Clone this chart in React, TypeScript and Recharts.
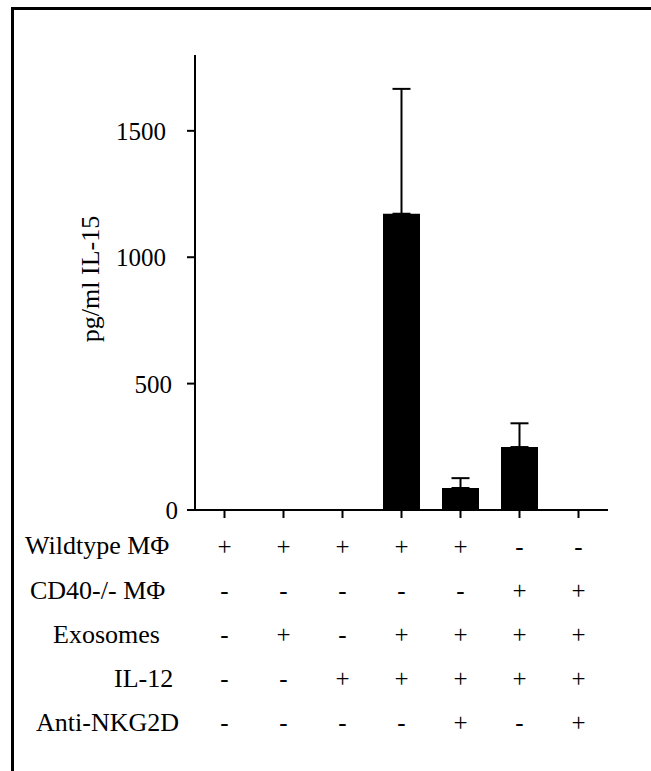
import { BarChart, Bar, XAxis, YAxis, ErrorBar } from 'recharts'

const groups = ['g1', 'g2', 'g3', 'g4', 'g5', 'g6', 'g7']
const il15 = [0, 0, 0, 1172, 87, 249, 0]
const il15Err = [0, 0, 0, 494, 39, 94, 0]

const wildtypeMac = ['+', '+', '+', '+', '+', '-', '-']
const cd40Mac = ['-', '-', '-', '-', '-', '+', '+']
const exosomes = ['-', '+', '-', '+', '+', '+', '+']
const il12 = ['-', '-', '+', '+', '+', '+', '+']
const antiNkg2d = ['-', '-', '-', '-', '+', '-', '+']

const rowNames = ['Wildtype MΦ', 'CD40-/- MΦ', 'Exosomes', 'IL-12', 'Anti-NKG2D']
const rowSigns = [wildtypeMac, cd40Mac, exosomes, il12, antiNkg2d]
const yTicks = [0, 500, 1000, 1500]

const FONT = 'Liberation Serif, DejaVu Serif, serif'
// where each row label starts (the scan does not align them)
const rowLabelX = [25, 30, 53, 114, 36]

const data = groups.map((g, i) => ({
  g,
  value: il15[i],
  err: [0, il15Err[i]],
}))

function signTick(row: string[], dy: number) {
  return (props: any) => {
    const i = groups.indexOf(props.payload.value)
    return (
      <text x={props.x} y={props.y + dy} textAnchor="middle" style={{ fontFamily: FONT }} fontSize={25} fill="#000">
        {row[i]}
      </text>
    )
  }
}

function rowLabel(k: number, dy: number) {
  return (props: any) => (
    <text x={rowLabelX[k]} y={props.viewBox.y + dy} style={{ fontFamily: FONT }} fontSize={26} fill="#000">
      {rowNames[k]}
    </text>
  )
}

function YTick(props: any) {
  const v = props.payload.value
  const shift = v === 0 ? 12 : v === 500 ? 6 : 0
  return (
    <text x={166 + shift} y={props.y + 9} textAnchor="end" style={{ fontFamily: FONT }} fontSize={25} fill="#000">
      {v}
    </text>
  )
}

export default function App() {
  return (
    <div style={{ position: 'absolute', left: 0, top: 0, width: 651, height: 771, background: '#fff', overflow: 'hidden', fontFamily: FONT }}>
      <div
        style={{
          position: 'absolute',
          left: 11,
          top: 7,
          width: 700,
          height: 800,
          borderLeft: '3px solid #000',
          borderTop: '3px solid #000',
        }}
      />
      <div style={{ position: 'absolute', left: 0, top: 0 }}>
        <BarChart width={651} height={771} data={data} margin={{ top: 55, right: 43, left: 0, bottom: 28 }}>
          <XAxis
            xAxisId="main"
            dataKey="g"
            height={57}
            tickSize={8}
            tickMargin={0}
            axisLine={{ stroke: '#000', strokeWidth: 2 }}
            tickLine={{ stroke: '#000', strokeWidth: 2 }}
            tick={signTick(wildtypeMac, 37)}
            label={rowLabel(0, 44)}
            interval={0}
          />
          {[1, 2, 3, 4].map((k) => (
            <XAxis
              key={k}
              xAxisId={`row${k}`}
              dataKey="g"
              height={44}
              tickSize={0}
              tickMargin={0}
              axisLine={false}
              tickLine={false}
              tick={signTick(rowSigns[k], 32)}
              label={rowLabel(k, 32)}
              interval={0}
            />
          ))}
          <XAxis
            xAxisId="top"
            orientation="top"
            dataKey="g"
            height={0}
            tick={false}
            tickLine={false}
            axisLine={{ stroke: '#000', strokeWidth: 2 }}
          />
          <YAxis
            yAxisId="main"
            width={195}
            domain={[0, 1800]}
            ticks={yTicks}
            tickSize={8}
            tickMargin={0}
            axisLine={{ stroke: '#000', strokeWidth: 2 }}
            tickLine={{ stroke: '#000', strokeWidth: 2 }}
            tick={YTick}
            label={() => (
              <text
                x={99}
                y={279}
                transform="rotate(-90 99 279)"
                textAnchor="middle"
                style={{ fontFamily: FONT }}
                fontSize={26}
                fill="#000"
              >
                pg/ml IL-15
              </text>
            )}
          />
          <YAxis
            yAxisId="right"
            orientation="right"
            width={0}
            domain={[0, 1800]}
            tick={false}
            tickLine={false}
            axisLine={{ stroke: '#000', strokeWidth: 2 }}
          />
          <Bar xAxisId="main" yAxisId="main" dataKey="value" fill="#000" barSize={37} isAnimationActive={false}>
            <ErrorBar dataKey="err" direction="y" width={9} stroke="#000" strokeWidth={2} />
          </Bar>
        </BarChart>
      </div>
    </div>
  )
}
